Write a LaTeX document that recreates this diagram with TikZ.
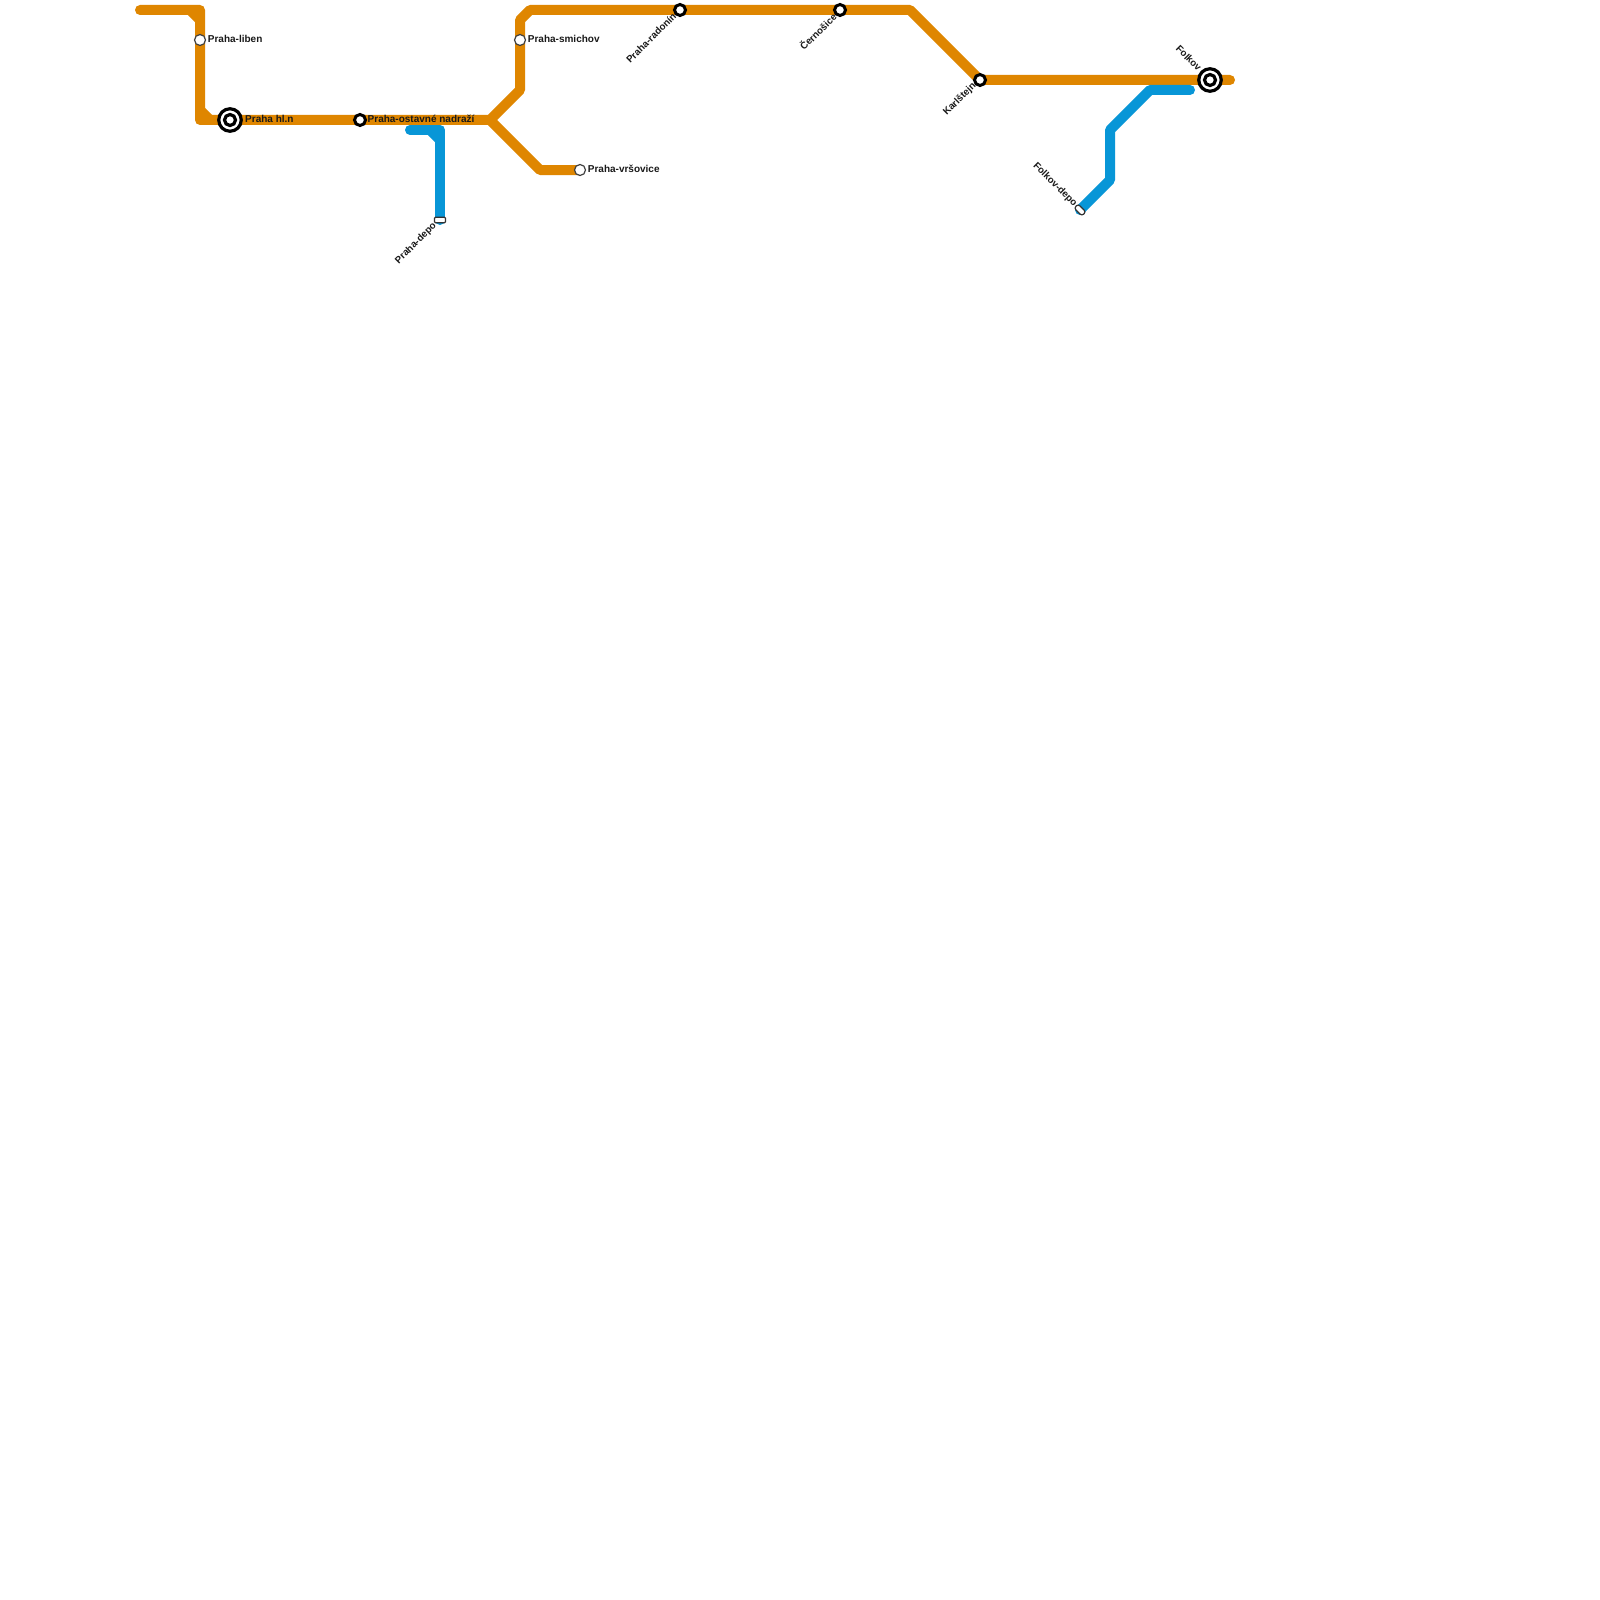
\documentclass[tikz,border=0pt]{standalone}
\usepackage{fontspec}
\setmainfont{Liberation Sans}
\usetikzlibrary{positioning}
\definecolor{lineorange}{HTML}{DF8600}
\definecolor{lineblue}{HTML}{0896D7}
\tikzset{
  orangeline/.style={draw=lineorange, line width=10pt, line cap=round, line join=round},
  blueline/.style={draw=lineblue, line width=10pt, line cap=round, line join=round},
  stoplabel/.style={font=\fontsize{10}{12}\selectfont\bfseries, inner sep=0pt, text=black!90},
  rotlabel/.style={stoplabel, font=\fontsize{9.7}{12}\selectfont\bfseries, anchor=east},
  plainstop/.style={circle, draw=black!75, fill=white, line width=1.2pt, minimum size=11pt, inner sep=0pt},
  ringstop/.style={circle, draw=black, fill=white, line width=3pt, minimum size=11pt, inner sep=0pt},
  bigstop/.style={circle, draw=black, fill=white, line width=3.2pt, minimum size=22.5pt, inner sep=0pt},
  bigstopcore/.style={circle, draw=black, fill=white, line width=3.2pt, minimum size=11pt, inner sep=0pt},
  depostop/.style={rectangle, draw=black!80, fill=white, line width=1.2pt, minimum width=11pt, minimum height=5.6pt, inner sep=0pt}
}
\begin{document}
\begin{tikzpicture}[x=1pt, y=-1pt]

  \useasboundingbox (0,0) rectangle (1600,1600);
  \fill[white] (0,0) rectangle (1600,1600);

  \coordinate (westend) at (140,10);
  \coordinate (libentop) at (200,10);
  \coordinate (libenfoot) at (200,120);
  \coordinate (junction) at (490,120);
  \coordinate (smichovfoot) at (520,90);
  \coordinate (smichovtop) at (520,20);
  \coordinate (radonintop) at (530,10);
  \coordinate (karlsteintop) at (910,10);
  \coordinate (karlsteinfoot) at (980,80);
  \coordinate (eastend) at (1230,80);
  \coordinate (vrsovicebend) at (540,170);
  \coordinate (vrsoviceend) at (580,170);
  \coordinate (depowest) at (410,130);
  \coordinate (depotop) at (440,130);
  \coordinate (depoend) at (440,220);
  \coordinate (folkoveast) at (1190,90);
  \coordinate (folkovbend) at (1150,90);
  \coordinate (folkovmid) at (1110,130);
  \coordinate (folkovlow) at (1110,180);
  \coordinate (folkovend) at (1080,210);

  \draw[orangeline] (westend) -- (libentop) -- (libenfoot) -- (junction) -- (smichovfoot) -- (smichovtop) -- (radonintop) -- (karlsteintop) -- (karlsteinfoot) -- (eastend);
  \draw[orangeline] (junction) -- (vrsovicebend) -- (vrsoviceend);
  \draw[orangeline, line cap=butt] (190,10) -- (200,20);
  \draw[orangeline, line cap=butt] (200,110) -- (210,120);

  \draw[blueline] (depowest) -- (depotop) -- (depoend);
  \draw[blueline, line cap=butt] (430,130) -- (440,140);
  \draw[blueline] (folkoveast) -- (folkovbend) -- (folkovmid) -- (folkovlow) -- (folkovend);

  \foreach \stopname/\x/\y/\stoptext in {liben/200/40/Praha-liben, smichov/520/40/Praha-smichov, vrsovice/580/170/Praha-vršovice} {
    \node[plainstop] (\stopname) at (\x,\y) {};
    \node[stoplabel, right=1.6pt of \stopname, yshift=1pt] (\stopname label) {\stoptext};
  }

  \node[ringstop] (ostavne) at (360,120) {};
  \node[stoplabel, anchor=west] (ostavnelabel) at (367.5,119) {Praha-ostavné nadraží};

  \foreach \stopname/\x/\y/\stoptext in {radonin/680/10/Praha-radonín, cernosice/840/10/Černošice, karlstein/980/80/Karlštejn} {
    \node[ringstop] (\stopname) at (\x,\y) {};
    \node[rotlabel, rotate=45] (\stopname label) at (\x-5.5,\y+4.5) {\stoptext};
  }

  \foreach \stopname/\x/\y in {hlavni/230/120, folkov/1210/80} {
    \node[bigstop] (\stopname) at (\x,\y) {};
    \node[bigstopcore] (\stopname core) at (\x,\y) {};
  }
  \node[stoplabel, anchor=west] (hlavnilabel) at (245,119) {Praha hl.n};
  \node[rotlabel, rotate=-45] (folkovlabel) at (1200,69.5) {Folkov};

  \node[depostop, rounded corners=1pt] (depo) at (440,220) {};
  \node[rotlabel, rotate=45] (depolabel) at (435,224.5) {Praha-depo};

  \node[depostop, rounded corners=2.4pt, rotate=-45] (folkovdepo) at (1080,210) {};
  \node[rotlabel, rotate=-45] (folkovdepolabel) at (1075.5,205.5) {Folkov-depo};

\end{tikzpicture}
\end{document}
